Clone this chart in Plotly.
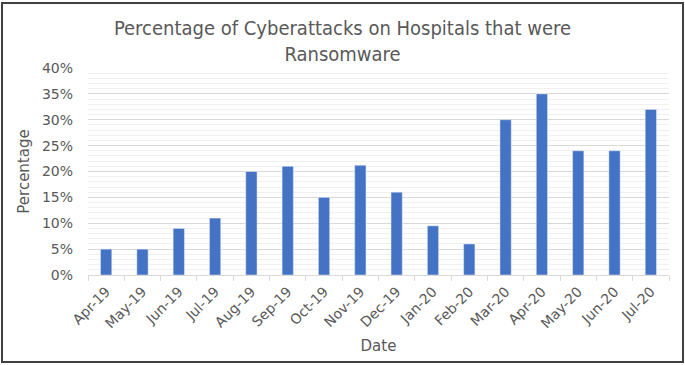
import plotly.graph_objects as go

months = ["Apr-19", "May-19", "Jun-19", "Jul-19", "Aug-19", "Sep-19", "Oct-19", "Nov-19",
          "Dec-19", "Jan-20", "Feb-20", "Mar-20", "Apr-20", "May-20", "Jun-20", "Jul-20"]
ransomware_pct = [5, 5, 9, 11, 20, 21, 15, 21.2, 16, 9.5, 6, 30, 35, 24, 24, 32]
ytick_vals = [0, 5, 10, 15, 20, 25, 30, 35, 40]
ytick_text = [f"{v}%" for v in ytick_vals]

W, H = 685, 365
ML, MR, MT, MB = 88, 16, 68, 90
pw, ph = W - ML - MR, H - MT - MB

fig = go.Figure(go.Bar(
    x=months, y=ransomware_pct, marker_color="#4472c4", width=0.31,
))

fig.update_layout(
    width=W, height=H,
    margin=dict(l=ML, r=MR, t=MT, b=MB, autoexpand=False),
    paper_bgcolor="white", plot_bgcolor="white",
    font=dict(family="DejaVu Sans", color="#595959", size=14),
    title=dict(text="Percentage of Cyberattacks on Hospitals that were<br>Ransomware",
               x=0.5, xanchor="center", y=0.905, yanchor="top",
               font=dict(size=20, color="#595959", family="DejaVu Sans Condensed")),
    showlegend=False,
    xaxis=dict(
        title=dict(text="Date", font=dict(size=15), standoff=10),
        tickangle=-45, tickson="boundaries", ticks="outside", ticklen=5,
        tickcolor="#d9d9d9", showline=True, linecolor="#d9d9d9", linewidth=1,
        showgrid=False, tickfont=dict(size=14), ticklabelstandoff=2,
    ),
    yaxis=dict(
        title=dict(text="Percentage", font=dict(size=15), standoff=8),
        range=[0, 40], tickvals=ytick_vals, ticktext=ytick_text,
        showgrid=True, gridcolor="#d9d9d9", gridwidth=1,
        minor=dict(dtick=1, showgrid=True, gridcolor="#f0f0f0", gridwidth=1),
        zeroline=False, showline=False, ticks="", tickfont=dict(size=14),
        ticklabelstandoff=14,
    ),
    shapes=[dict(
        type="rect", xref="paper", yref="paper",
        x0=(2 - ML) / pw, x1=(W - 2 - ML) / pw,
        y0=(-MB + 3) / ph, y1=(ph + MT - 3) / ph,
        line=dict(color="#404040", width=2), fillcolor="rgba(0,0,0,0)", layer="above",
    )],
)

fig.write_html("out.html", config={"displayModeBar": False},
               post_script="document.body.style.margin='0';document.body.style.overflow='hidden';")
